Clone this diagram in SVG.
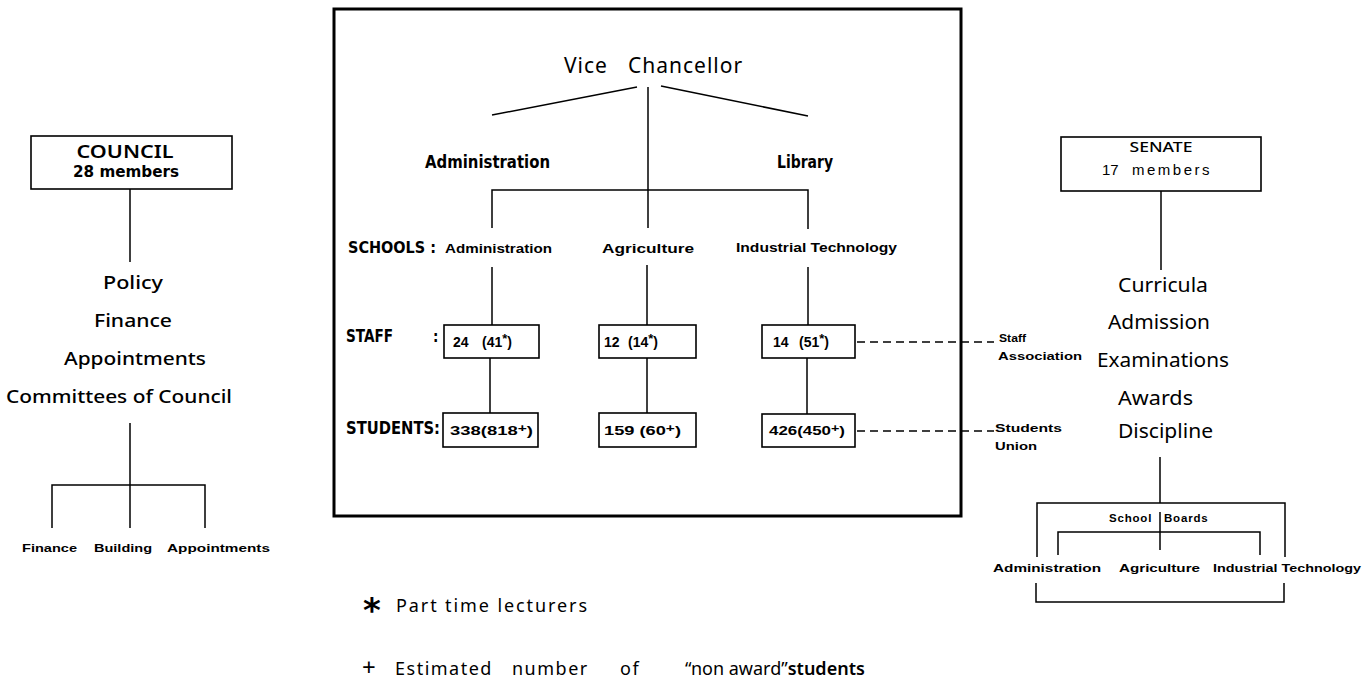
<svg xmlns="http://www.w3.org/2000/svg" width="1369" height="683" viewBox="0 0 1369 683">
<style>
text{fill:#000}
.geo{font-family:"Noto Sans","DejaVu Sans",sans-serif;font-weight:500}
.cond{font-family:"Liberation Sans Narrow","DejaVu Sans Condensed","Liberation Sans",sans-serif;font-weight:bold}
.sm{font-family:"Liberation Sans",Arial,sans-serif;font-weight:bold}
.box{fill:none;stroke:#000;stroke-width:1.6}
.frame{fill:none;stroke:#000;stroke-width:3}
.ln{fill:none;stroke:#000;stroke-width:1.5}
.dash{fill:none;stroke:#000;stroke-width:1.6;stroke-dasharray:8 5}
.star{font-size:13px}
.plus{font-size:11px}
</style>
<rect width="1369" height="683" fill="#fff"/>

<g id="connectors">
  <!-- council -->
  <line class="ln" x1="130" y1="189" x2="130" y2="262"/>
  <line class="ln" x1="130" y1="423" x2="130" y2="528"/>
  <polyline class="ln" points="52,528 52,485 205,485 205,528"/>
  <!-- vice chancellor -->
  <line class="ln" x1="492" y1="115" x2="637" y2="87"/>
  <line class="ln" x1="648" y1="87" x2="648" y2="228"/>
  <line class="ln" x1="661" y1="86" x2="808" y2="116"/>
  <polyline class="ln" points="492,228 492,190 808,190 808,229"/>
  <line class="ln" x1="492" y1="267" x2="492" y2="325"/>
  <line class="ln" x1="647" y1="265" x2="647" y2="325"/>
  <line class="ln" x1="808" y1="267" x2="808" y2="325"/>
  <line class="ln" x1="490" y1="358" x2="490" y2="413"/>
  <line class="ln" x1="647" y1="358" x2="647" y2="413"/>
  <line class="ln" x1="807" y1="358" x2="807" y2="414"/>
  <line class="dash" x1="857" y1="342" x2="994" y2="342"/>
  <line class="dash" x1="857" y1="431" x2="994" y2="431"/>
  <!-- senate -->
  <line class="ln" x1="1161" y1="191" x2="1161" y2="270"/>
  <line class="ln" x1="1160" y1="457" x2="1160" y2="503"/>
  <polyline class="ln" points="1037,557 1037,503 1285,503 1285,557"/>
  <line class="ln" x1="1160" y1="512" x2="1160" y2="550"/>
  <polyline class="ln" points="1058,555 1058,532 1260,532 1260,555"/>
  <polyline class="ln" points="1036,583 1036,602 1284,602 1284,583"/>
</g>

<g id="council">
  <rect class="box" x="31" y="136" width="201" height="53"/>
  <text class="geo" x="125" y="158" font-size="18" style="font-weight:600" text-anchor="middle" textLength="97" lengthAdjust="spacingAndGlyphs">COUNCIL</text>
  <text class="cond" x="126" y="177" font-size="16" text-anchor="middle" textLength="106" lengthAdjust="spacingAndGlyphs">28 members</text>
</g>
<g id="council-functions" class="geo" font-size="18">
  <text x="103" y="289" textLength="60" lengthAdjust="spacingAndGlyphs">Policy</text>
  <text x="94" y="327" textLength="78" lengthAdjust="spacingAndGlyphs">Finance</text>
  <text x="64" y="365" textLength="142" lengthAdjust="spacingAndGlyphs">Appointments</text>
  <text x="6" y="403" textLength="226" lengthAdjust="spacingAndGlyphs">Committees of Council</text>
</g>
<g id="council-committees" class="sm" font-size="11">
  <text x="22" y="552" textLength="55" lengthAdjust="spacingAndGlyphs">Finance</text>
  <text x="94" y="552" textLength="58" lengthAdjust="spacingAndGlyphs">Building</text>
  <text x="167" y="552" textLength="103" lengthAdjust="spacingAndGlyphs">Appointments</text>
</g>

<g id="university">
  <rect class="frame" x="334" y="9" width="627" height="507"/>
  <g id="vice-chancellor">
    <text class="geo" y="73" font-size="21" style="font-weight:400" letter-spacing="1"><tspan x="564">Vice</tspan><tspan x="628">Chancellor</tspan></text>
  </g>
  <g id="administration">
    <text class="cond" x="425" y="168" font-size="18" textLength="125" lengthAdjust="spacingAndGlyphs">Administration</text>
  </g>
  <g id="library">
    <text class="cond" x="777" y="168" font-size="18" textLength="56" lengthAdjust="spacingAndGlyphs">Library</text>
  </g>
  <g id="schools">
    <text class="cond" x="348" y="253" font-size="16" textLength="88" lengthAdjust="spacingAndGlyphs" xml:space="preserve">SCHOOLS :</text>
    <text class="sm" x="445" y="253" font-size="12" textLength="107" lengthAdjust="spacingAndGlyphs">Administration</text>
    <text class="sm" x="602" y="253" font-size="12" textLength="92" lengthAdjust="spacingAndGlyphs">Agriculture</text>
    <text class="sm" x="736" y="252" font-size="12" textLength="161" lengthAdjust="spacingAndGlyphs">Industrial Technology</text>
  </g>
  <g id="staff">
    <text class="cond" y="342" font-size="18"><tspan x="346" textLength="47" lengthAdjust="spacingAndGlyphs">STAFF</tspan><tspan x="433" font-size="15">:</tspan></text>
    <rect class="box" x="444" y="325" width="95" height="33"/>
    <rect class="box" x="599" y="325" width="97" height="33"/>
    <rect class="box" x="762" y="325" width="93" height="33"/>
    <text class="sm" y="347" font-size="14"><tspan x="453">24</tspan><tspan x="482">(41</tspan><tspan class="star" dy="-4">*</tspan><tspan dy="4">)</tspan></text>
    <text class="sm" y="347" font-size="14"><tspan x="604">12</tspan><tspan x="628">(14</tspan><tspan class="star" dy="-4">*</tspan><tspan dy="4">)</tspan></text>
    <text class="sm" y="347" font-size="14"><tspan x="773">14</tspan><tspan x="799">(51</tspan><tspan class="star" dy="-4">*</tspan><tspan dy="4">)</tspan></text>
  </g>
  <g id="students">
    <text class="cond" x="346" y="434" font-size="18" textLength="94" lengthAdjust="spacingAndGlyphs">STUDENTS:</text>
    <rect class="box" x="443" y="413" width="95" height="34"/>
    <rect class="box" x="599" y="413" width="97" height="34"/>
    <rect class="box" x="762" y="414" width="93" height="33"/>
    <text class="sm" x="450" y="435" font-size="13" textLength="83" lengthAdjust="spacingAndGlyphs">338(818<tspan class="plus" dy="-3">+</tspan><tspan dy="3">)</tspan></text>
    <text class="sm" x="604" y="435" font-size="13" textLength="77" lengthAdjust="spacingAndGlyphs">159 (60<tspan class="plus" dy="-3">+</tspan><tspan dy="3">)</tspan></text>
    <text class="sm" x="769" y="435" font-size="13" textLength="76" lengthAdjust="spacingAndGlyphs">426(450<tspan class="plus" dy="-3">+</tspan><tspan dy="3">)</tspan></text>
  </g>
</g>

<g id="staff-association" class="sm" font-size="10.5">
  <text x="999" y="342" textLength="27" lengthAdjust="spacingAndGlyphs">Staff</text>
  <text x="998" y="360" textLength="84" lengthAdjust="spacingAndGlyphs">Association</text>
</g>
<g id="students-union" class="sm" font-size="10.5">
  <text x="995" y="432" textLength="67" lengthAdjust="spacingAndGlyphs">Students</text>
  <text x="995" y="450" textLength="42" lengthAdjust="spacingAndGlyphs">Union</text>
</g>

<g id="senate">
  <rect class="box" x="1061" y="137" width="200" height="54"/>
  <text class="geo" x="1161" y="152" font-size="15" text-anchor="middle" textLength="63" lengthAdjust="spacingAndGlyphs">SENATE</text>
  <text class="sm" y="175" font-size="15" style="font-weight:normal"><tspan x="1102">17</tspan><tspan x="1132" letter-spacing="2.5">members</tspan></text>
</g>
<g id="senate-functions" class="geo" font-size="19" style="font-weight:400">
  <text x="1118" y="292" textLength="90" lengthAdjust="spacingAndGlyphs">Curricula</text>
  <text x="1108" y="329" textLength="102" lengthAdjust="spacingAndGlyphs">Admission</text>
  <text x="1097" y="367" textLength="132" lengthAdjust="spacingAndGlyphs">Examinations</text>
  <text x="1118" y="405" textLength="75" lengthAdjust="spacingAndGlyphs">Awards</text>
  <text x="1118" y="438" textLength="95" lengthAdjust="spacingAndGlyphs">Discipline</text>
</g>
<g id="school-boards" class="sm" font-size="11.5">
  <text y="522"><tspan x="1109" letter-spacing="0.8">School</tspan><tspan x="1164" letter-spacing="0.8">Boards</tspan></text>
  <text x="993" y="572" textLength="108" lengthAdjust="spacingAndGlyphs">Administration</text>
  <text x="1119" y="572" textLength="81" lengthAdjust="spacingAndGlyphs">Agriculture</text>
  <text x="1213" y="572" textLength="148" lengthAdjust="spacingAndGlyphs">Industrial Technology</text>
</g>

<g id="legend" class="geo" font-size="18" style="font-weight:400">
  <text x="363" y="622" font-size="34" style="font-family:'DejaVu Sans',sans-serif;font-weight:bold">*</text>
  <text x="396" y="612" textLength="191" lengthAdjust="spacing">Part time lecturers</text>
  <text x="362" y="676" font-size="24">+</text>
  <text y="675"><tspan x="395" letter-spacing="1.5">Estimated</tspan><tspan x="512" letter-spacing="1.5">number</tspan><tspan x="620" letter-spacing="1.5">of</tspan><tspan x="685">“non award”<tspan style="font-weight:600">students</tspan></tspan></text>
</g>
</svg>
